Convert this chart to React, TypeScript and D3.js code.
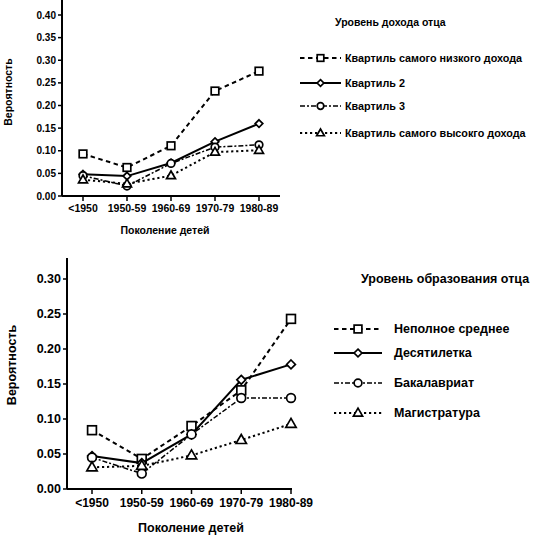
import * as d3 from "d3";
import * as React from "react";

// generations (x categories)
const generations = ["<1950", "1950-59", "1960-69", "1970-79", "1980-89"];

// top panel: father's income quartile
const incomeTitle = "Уровень дохода отца";
const incomeNames = [
  "Квартиль самого низкого дохода",
  "Квартиль 2",
  "Квартиль 3",
  "Квартиль самого высокго дохода",
];
const incomeLowest = [0.093, 0.063, 0.111, 0.232, 0.276];
const incomeQ2 = [0.048, 0.044, 0.073, 0.12, 0.16];
const incomeQ3 = [0.045, 0.022, 0.072, 0.108, 0.113];
const incomeHighest = [0.036, 0.027, 0.045, 0.097, 0.101];
const incomeTicks = [0, 0.05, 0.1, 0.15, 0.2, 0.25, 0.3, 0.35, 0.4];

// bottom panel: father's education
const eduTitle = "Уровень образования отца";
const eduNames = ["Неполное среднее", "Десятилетка", "Бакалавриат", "Магистратура"];
const eduIncomplete = [0.084, 0.043, 0.09, 0.141, 0.243];
const eduSchool = [0.047, 0.037, 0.078, 0.156, 0.178];
const eduBachelor = [0.045, 0.022, 0.078, 0.13, 0.13];
const eduMaster = [0.031, 0.033, 0.048, 0.07, 0.093];
const eduTicks = [0, 0.05, 0.1, 0.15, 0.2, 0.25, 0.3];

const yTitle = "Вероятность";
const xTitle = "Поколение детей";

type Marker = "square" | "diamond" | "circle" | "triangle";
const styles: { dash: string; marker: Marker; width: number }[] = [
  { dash: "4.5,3.5", marker: "square", width: 2 },
  { dash: "", marker: "diamond", width: 2 },
  { dash: "5,2,2,2", marker: "circle", width: 1.5 },
  { dash: "2.2,2.8", marker: "triangle", width: 2 },
];

const font = "'Liberation Sans', Arial, sans-serif";

function MarkerShape({ kind, x, y, s }: { kind: Marker; x: number; y: number; s: number }) {
  const common = { fill: "#fff", stroke: "#000", strokeWidth: 1.7 };
  if (kind === "square")
    return <rect x={x - s} y={y - s} width={s * 2} height={s * 2} {...common} />;
  if (kind === "circle") return <circle cx={x} cy={y} r={s} {...common} />;
  if (kind === "diamond")
    return (
      <path
        d={`M${x},${y - s}L${x + s},${y}L${x},${y + s}L${x - s},${y}Z`}
        {...common}
      />
    );
  const sym = d3.symbol().type(d3.symbolTriangle).size(s * s * 2.4)();
  return <path d={sym || ""} transform={`translate(${x},${y + 0.5})`} {...common} />;
}

interface PanelProps {
  series: number[][];
  names: string[];
  title: string;
  ticks: number[];
  yMax: number;
  axisX: number;
  axisTop: number;
  y0: number;
  yMaxPx: number;
  xFirst: number;
  xLast: number;
  axisEnd: number;
  yTickSize: number;
  xTickSize: number;
  titleSize: number;
  yTitleX: number;
  yTitleY: number;
  xTitleX: number;
  xTitleY: number;
  legendTitleX: number;
  legendTitleY: number;
  legendTitleSize: number;
  legendX0: number;
  legendX1: number;
  legendTextX: number;
  legendYs: number[];
  legendSize: number;
  markerSize: number;
}

function Panel(p: PanelProps) {
  const x = d3.scalePoint<string>().domain(generations).range([p.xFirst, p.xLast]);
  const y = d3.scaleLinear().domain([0, p.yMax]).range([p.y0, p.yMaxPx]);
  const line = d3
    .line<number>()
    .x((_, i) => x(generations[i])!)
    .y((d) => y(d));
  const fmt = d3.format(".2f");
  return (
    <g fontFamily={font} fill="#000">
      {/* axes */}
      <line x1={p.axisX} x2={p.axisX} y1={p.axisTop} y2={p.y0} stroke="#000" strokeWidth={2} />
      <line x1={p.axisX} x2={p.axisEnd} y1={p.y0} y2={p.y0} stroke="#000" strokeWidth={2} />
      {p.ticks.map((t) => (
        <g key={t}>
          <line x1={p.axisX - 4} x2={p.axisX} y1={y(t)} y2={y(t)} stroke="#000" strokeWidth={1.5} />
          <text
            x={p.axisX - 6}
            y={y(t)}
            dy="0.35em"
            textAnchor="end"
            fontSize={p.yTickSize}
            fontWeight="bold"
          >
            {fmt(t)}
          </text>
        </g>
      ))}
      {generations.map((g) => (
        <g key={g}>
          <line x1={x(g)} x2={x(g)} y1={p.y0} y2={p.y0 + 5} stroke="#000" strokeWidth={1.5} />
          <text
            x={x(g)}
            y={p.y0 + 8}
            dy="0.8em"
            textAnchor="middle"
            fontSize={p.xTickSize}
            fontWeight="bold"
          >
            {g}
          </text>
        </g>
      ))}
      <text
        transform={`translate(${p.yTitleX},${p.yTitleY}) rotate(-90)`}
        textAnchor="middle"
        dy="0.35em"
        fontSize={p.titleSize}
        fontWeight="bold"
      >
        {yTitle}
      </text>
      <text
        x={p.xTitleX}
        y={p.xTitleY}
        dy="0.35em"
        textAnchor="middle"
        fontSize={p.titleSize}
        fontWeight="bold"
      >
        {xTitle}
      </text>

      {/* series */}
      {p.series.map((s, i) => (
        <g key={i}>
          <path
            d={line(s) || ""}
            fill="none"
            stroke="#000"
            strokeWidth={styles[i].width}
            strokeDasharray={styles[i].dash}
          />
          {s.map((v, j) => (
            <MarkerShape
              key={j}
              kind={styles[i].marker}
              x={x(generations[j])!}
              y={y(v)}
              s={p.markerSize}
            />
          ))}
        </g>
      ))}

      {/* legend */}
      <text
        x={p.legendTitleX}
        y={p.legendTitleY}
        dy="0.35em"
        fontSize={p.legendTitleSize}
        fontWeight="bold"
      >
        {p.title}
      </text>
      {p.names.map((n, i) => {
        const ly = p.legendYs[i];
        return (
          <g key={n}>
            <line
              x1={p.legendX0}
              x2={p.legendX1}
              y1={ly}
              y2={ly}
              stroke="#000"
              strokeWidth={styles[i].width}
              strokeDasharray={styles[i].dash}
            />
            <MarkerShape
              kind={styles[i].marker}
              x={(p.legendX0 + p.legendX1) / 2}
              y={ly}
              s={p.markerSize - 0.5}
            />
            <text x={p.legendTextX} y={ly} dy="0.35em" fontSize={p.legendSize} fontWeight="bold">
              {n}
            </text>
          </g>
        );
      })}
    </g>
  );
}

export default function App() {
  return (
    <svg
      width={536}
      height={541}
      style={{ position: "absolute", left: 0, top: 0, background: "#fff" }}
    >
      <rect width={536} height={541} fill="#fff" />
      <Panel
        series={[incomeLowest, incomeQ2, incomeQ3, incomeHighest]}
        names={incomeNames}
        title={incomeTitle}
        ticks={incomeTicks}
        yMax={0.4}
        axisX={62}
        axisTop={0}
        y0={196}
        yMaxPx={15}
        xFirst={83}
        xLast={259}
        axisEnd={280}
        yTickSize={10}
        xTickSize={10.5}
        titleSize={10.5}
        yTitleX={8}
        yTitleY={92}
        xTitleX={165}
        xTitleY={230}
        legendTitleX={335}
        legendTitleY={22}
        legendTitleSize={10.5}
        legendX0={300}
        legendX1={341}
        legendTextX={345}
        legendYs={[58, 83, 106, 133]}
        legendSize={10.8}
        markerSize={3.8}
      />
      <Panel
        series={[eduIncomplete, eduSchool, eduBachelor, eduMaster]}
        names={eduNames}
        title={eduTitle}
        ticks={eduTicks}
        yMax={0.3}
        axisX={67}
        axisTop={258}
        y0={489}
        yMaxPx={279}
        xFirst={92}
        xLast={291}
        axisEnd={292}
        yTickSize={12.5}
        xTickSize={12}
        titleSize={12.5}
        yTitleX={12}
        yTitleY={365}
        xTitleX={191}
        xTitleY={528}
        legendTitleX={361}
        legendTitleY={279}
        legendTitleSize={12.5}
        legendX0={334}
        legendX1={382}
        legendTextX={394}
        legendYs={[329, 353, 383, 413]}
        legendSize={12.5}
        markerSize={4.4}
      />
    </svg>
  );
}
